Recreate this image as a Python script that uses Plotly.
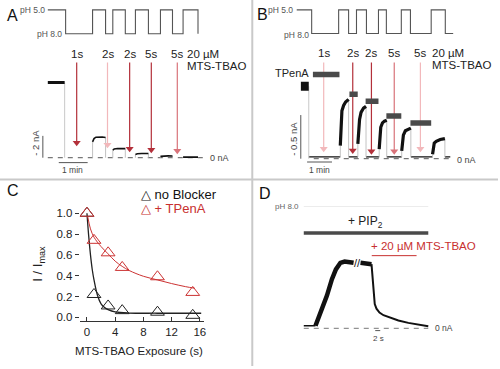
import plotly.graph_objects as go

W, H = 500, 369
FONT = "Arial, 'Liberation Sans', sans-serif"
RED = "#c8302f"
DARK_RED = "#b3303a"
MED_RED = "#d9737a"
PINK = "#f2b8bb"

# ---------------- Panel A (time s, current nA, pH) ----------------
A_PH_T = [0, 37, 93, 120, 135, 161, 182, 209, 234, 259, 281, 312]
A_PH = [5.0, 8.0, 5.0, 8.0, 5.0, 8.0, 5.0, 8.0, 5.0, 8.0, 5.0, 8.0]
A_INIT_T = [0, 35]
A_INIT_I = [6.9, 6.9]
A_RESP_T = [[93, 96, 100, 106, 113, 120],
            [135, 138, 145, 153, 161],
            [182, 186, 195, 209],
            [234, 240, 250, 259],
            [281, 290, 300, 312]]
A_RESP_I = [[1.45, 1.75, 1.88, 1.92, 1.90, 1.85],
            [0.70, 0.80, 0.84, 0.84, 0.83],
            [0.30, 0.36, 0.39, 0.38],
            [0.12, 0.16, 0.17, 0.15],
            [0.05, 0.07, 0.06, 0.05]]
A_ZERO_T = [0, 329]
A_MTS_T = [60, 124, 170, 215, 269]
A_MTS_LABELS = ["1s", "2s", "2s", "5s", "5s"]
A_ARROW_TIP = [1.09, 0.91, 0.55, 0.45, 0.36]
A_ARROW_COL = [DARK_RED, PINK, DARK_RED, DARK_RED, MED_RED]

# ---------------- Panel B ----------------
B_PH_T = [-17, 19, 84, 108, 127, 151, 180, 199, 235, 257, 307, 341, 360]
B_PH = [5.0, 8.0, 5.0, 8.0, 5.0, 8.0, 5.0, 8.0, 5.0, 8.0, 5.0, 8.0, 8.0]
B_INIT_T = [-7, 12]
B_INIT_I = [0.83, 0.83]
B_RESP_T = [[88, 88.8, 90.5, 91.9, 96, 100.8, 108],
            [130.3, 132, 134.4, 138, 144, 150],
            [181.7, 183.1, 185.5, 189.6, 194.4, 199.9],
            [236, 237.6, 240, 244.8, 252, 258],
            [310.3, 312, 314.4, 319.2, 328.8, 340]]
B_RESP_I = [[0.15, 0.23, 0.40, 0.55, 0.61, 0.65, 0.68],
            [0.17, 0.31, 0.45, 0.53, 0.58, 0.60],
            [0.11, 0.25, 0.36, 0.41, 0.43, 0.44],
            [0.09, 0.20, 0.27, 0.32, 0.34, 0.35],
            [0.05, 0.14, 0.18, 0.20, 0.22, 0.23]]
B_BASE_I = 0.02
B_BASE_END = 353
B_ZERO_T = [24, 360]
B_MTS_T = [48, 118, 163, 218, 281]
B_MTS_LABELS = ["1s", "2s", "2s", "5s", "5s"]
B_ARROW_TIP = [0.08, 0.06, 0.05, 0.05, 0.08]
B_ARROW_COL = [PINK, DARK_RED, DARK_RED, MED_RED, PINK]
B_TPENA_START = [22, 110, 149, 199, 257]
B_TPENA_END = [86, 130, 180, 235, 307]
B_TPENA_LEVEL = [0.966, 0.739, 0.659, 0.489, 0.409]

# ---------------- Panel C ----------------
C_EXPOSURE = [0, 1, 3, 5, 10, 15]
C_NO_BLOCKER = [1.0, 0.22, 0.11, 0.065, 0.05, 0.02]
C_TPENA = [1.0, 0.74, 0.62, 0.48, 0.39, 0.24]
C_FIT_NB_X = [0, 0.25, 0.5, 0.75, 1, 1.5, 2, 2.5, 3, 4, 6, 10, 16.2]
C_FIT_NB_Y = [1.0, 0.78, 0.60, 0.46, 0.36, 0.21, 0.13, 0.095, 0.075, 0.053, 0.042, 0.04, 0.04]
C_FIT_TP_X = [0.1, 0.5, 1, 2, 3, 4, 5, 6, 8, 10, 12, 14, 15.3]
C_FIT_TP_Y = [0.97, 0.85, 0.77, 0.68, 0.61, 0.54, 0.49, 0.45, 0.395, 0.36, 0.325, 0.295, 0.28]
C_XTICKS = [0, 4, 8, 12, 16]
C_YTICKS = [0.0, 0.2, 0.4, 0.6, 0.8, 1.0]

# ---------------- Panel D (time s, normalised current) ----------------
D_BASE_T = [0, 4.7]
D_BASE_I = [0.04, 0.04]
D_RISE_T = [4.7, 6.7, 9.3, 11.3, 12.9, 14.7, 16.4, 20]
D_RISE_I = [0.04, 0.24, 0.50, 0.75, 0.90, 1.0, 1.02, 1.0]
D_PLAT_T = [22.8, 25, 27.2]
D_PLAT_I = [1.0, 0.99, 0.98]
D_DECAY_T = [27.2, 27.6, 28.2, 28.5, 29.2, 30.4, 32, 34.8, 38, 42, 46, 50]
D_DECAY_I = [0.98, 0.75, 0.50, 0.37, 0.30, 0.24, 0.20, 0.16, 0.12, 0.083, 0.056, 0.03]
D_PIP2_T = [0, 50]
D_MTS_T = [27.3, 45.3]
D_ZERO_T = [0, 50]


def px(x):
    return x / W


def py(y):
    return 1 - y / H


def xr(p0, p1, pref, sec_per_px):
    return [(p0 - pref) * sec_per_px, (p1 - pref) * sec_per_px]


def yr(pb, pt, pzero, px_per_unit):
    return [(pzero - pb) / px_per_unit, (pzero - pt) / px_per_unit]


fig = go.Figure()


def line(x, y, xa, ya, color="#111", width=1.0, dash=None, shape="linear"):
    fig.add_trace(go.Scatter(x=x, y=y, xaxis=xa, yaxis=ya, mode="lines",
                             line=dict(color=color, width=width, dash=dash, shape=shape),
                             hoverinfo="skip", showlegend=False))


def segs(ts, vs):
    xs, ys = [], []
    for t, v in zip(ts, vs):
        xs += list(t) + [None]
        ys += list(v) + [None]
    return xs, ys


def edges(ts, vs, base=0.0):
    xs, ys = [], []
    for t, v in zip(ts, vs):
        xs += [t[0], t[0], None, t[-1], t[-1], None]
        ys += [base, v[0], None, v[-1], base, None]
    return xs, ys


def arrows(times, tips, cols, xa, ya, start, px_per_unit):
    head = 3.0 / px_per_unit
    for t, tip, c in zip(times, tips, cols):
        line([t, t], [start, tip + head], xa, ya, c, 1.2)
        fig.add_trace(go.Scatter(x=[t], y=[tip + head], xaxis=xa, yaxis=ya, mode="markers",
                                 marker=dict(symbol="triangle-down", size=7, color=c,
                                             line=dict(width=0)),
                                 hoverinfo="skip", showlegend=False))


# ----- Panel A -----
line(A_PH_T, A_PH, "x", "y", "#555", 1.1, shape="hv")
line(A_ZERO_T, [0, 0], "x", "y2", "#555", 1.0, dash="5px,5px")
line([A_INIT_T[-1], A_INIT_T[-1]], [A_INIT_I[-1], 0], "x", "y2", "#c8c8c8", 1.0)
ex, ey = edges(A_RESP_T, A_RESP_I)
line(ex, ey, "x", "y2", "#bbbbbb", 0.9)
line(A_INIT_T, A_INIT_I, "x", "y2", "#111", 3)
sx, sy = segs(A_RESP_T, A_RESP_I)
line(sx, sy, "x", "y2", "#111", 1.6)
arrows(A_MTS_T, A_ARROW_TIP, A_ARROW_COL, "x", "y2", (159 - 63) / 11, 11)
# scale bars A (2 nA, 1 min)
line([-10.3, -10.3], [0, 2], "x", "y2", "#555", 1.0)
line([22.8, 82.8], [-0.45, -0.45], "x", "y2", "#555", 1.0)

# ----- Panel B -----
line(B_PH_T, B_PH, "x2", "y3", "#555", 1.1, shape="hv")
line(B_ZERO_T, [0, 0], "x2", "y4", "#555", 1.0, dash="5px,5px")
bx, by = [B_INIT_T[-1]], [B_BASE_I]
for t in B_RESP_T:
    bx += [t[0], None, t[-1]]
    by += [B_BASE_I, None, B_BASE_I]
bx.append(B_BASE_END)
by.append(B_BASE_I)
line(bx, by, "x2", "y4", "#111", 1.2)
line([B_INIT_T[-1], B_INIT_T[-1]], [B_INIT_I[-1], 0], "x2", "y4", "#c8c8c8", 1.0)
ex, ey = edges(B_RESP_T, B_RESP_I, B_BASE_I)
line(ex, ey, "x2", "y4", "#bbbbbb", 0.9)
line(B_INIT_T, B_INIT_I, "x2", "y4", "#111", 9)
sx, sy = segs(B_RESP_T, B_RESP_I)
line(sx, sy, "x2", "y4", "#111", 3.2)
arrows(B_MTS_T, B_ARROW_TIP, B_ARROW_COL, "x2", "y4", (160 - 63) / 88, 88)
tx, ty = segs([[s, e] for s, e in zip(B_TPENA_START, B_TPENA_END)],
              [[v, v] for v in B_TPENA_LEVEL])
line(tx, ty, "x2", "y4", "#4a4a4a", 5.5)
# scale bars B (0.5 nA, 1 min)
line([-7.2, -7.2], [0, 0.5], "x2", "y4", "#555", 1.0)
line([8, 68], [-0.038, -0.038], "x2", "y4", "#555", 1.0)

# ----- Panel C -----
line(C_FIT_NB_X, C_FIT_NB_Y, "x3", "y5", "#222", 1.3, shape="spline")
line(C_FIT_TP_X, C_FIT_TP_Y, "x3", "y5", "#cc3333", 1.0, shape="spline")
fig.add_trace(go.Scatter(x=C_EXPOSURE, y=C_NO_BLOCKER, xaxis="x3", yaxis="y5", mode="markers",
                         name="no Blocker",
                         marker=dict(symbol="triangle-up-open", size=12, color="#222",
                                     line=dict(width=1)),
                         hoverinfo="skip", showlegend=False))
fig.add_trace(go.Scatter(x=C_EXPOSURE, y=C_TPENA, xaxis="x3", yaxis="y5", mode="markers",
                         name="+ TPenA",
                         marker=dict(symbol="triangle-up-open", size=12, color="#cc3333",
                                     line=dict(width=1)),
                         hoverinfo="skip", showlegend=False))

# ----- Panel D -----
line(D_ZERO_T, [0, 0], "x4", "y6", "#777", 1.0, dash="5px,5px")
line(D_ZERO_T, [1.86, 1.86], "x4", "y6", "#ececec", 1.0)
line(D_PIP2_T, [1.455, 1.455], "x4", "y6", "#4a4a4a", 3.5)
line(D_MTS_T, [1.11, 1.11], "x4", "y6", RED, 1.0)
line(D_BASE_T, D_BASE_I, "x4", "y6", "#111", 1.6)
line(D_RISE_T, D_RISE_I, "x4", "y6", "#111", 4.5)
line(D_PLAT_T, D_PLAT_I, "x4", "y6", "#111", 4.5)
line(D_DECAY_T, D_DECAY_I, "x4", "y6", "#111", 2.0)
line([28.7, 30.7], [-0.035, -0.035], "x4", "y6", "#555", 1.0)

# ---------------- annotations ----------------
ann = []


def txt(x, y, s, size=11.5, color="#222", xanchor="center", yanchor="middle",
        xref="paper", yref="paper", angle=0):
    if xref == "paper":
        x = px(x)
    if yref == "paper":
        y = py(y)
    ann.append(dict(x=x, y=y, xref=xref, yref=yref, text=s, showarrow=False,
                    xanchor=xanchor, yanchor=yanchor, textangle=angle,
                    font=dict(family=FONT, size=size, color=color)))


# Panel letters
txt(13, 15.5, "A", 16, "#111")
txt(264, 15, "B", 16, "#111")
txt(13, 192, "C", 16, "#111")
txt(266, 195, "D", 16, "#111")

# A texts
txt(47, 10, "pH 5.0", 8.5, "#555", xanchor="right")
txt(64, 34, "pH 8.0", 8.5, "#555", xanchor="right")
for t, s in zip(A_MTS_T, A_MTS_LABELS):
    txt(t, 54, s, 11.5, "#222", xref="x")
txt(186, 54, "20 µM", 11.5, "#222", xanchor="left")
txt(186, 67, "MTS-TBAO", 11.5, "#222", xanchor="left")
txt(36, 144, "- 2 nA", 9.5, "#444", angle=-90)
txt(73, 171, "1 min", 8.5, "#444")
txt(209, 159, "0 nA", 9, "#444", xanchor="left")

# B texts
txt(296, 10, "pH 5.0", 8.5, "#555", xanchor="right")
txt(312, 35, "pH 8.0", 8.5, "#555", xanchor="right")
for t, s in zip(B_MTS_T, B_MTS_LABELS):
    txt(t, 53, s, 11.5, "#222", xref="x2")
txt(432, 53, "20 µM", 11.5, "#222", xanchor="left")
txt(432, 66, "MTS-TBAO", 11.5, "#222", xanchor="left")
txt(312, 74, "TPenA", 11, "#222", xanchor="right")
txt(295, 140, "- 0.5 nA", 9.5, "#444", angle=-90)
txt(321, 171, "1 min", 8.5, "#444")
txt(457, 161, "0 nA", 9, "#444", xanchor="left")

# C texts
txt(140, 196.5, "△ no Blocker", 13, "#111", xanchor="left")
txt(140, 210, "△ + TPenA", 13, RED, xanchor="left")
txt(39, 266, "I / I<sub>max</sub>", 13, "#222", angle=-90)
txt(140, 354, "MTS-TBAO Exposure (s)", 11.5, "#222")

# D texts
txt(302, 208, "pH 8.0", 8, "#666", xanchor="right")
txt(367, 224, "+ PIP<sub>2</sub>", 12, "#222")
txt(370, 248, "+ 20 µM MTS-TBAO", 11.5, RED, xanchor="left")
txt(358.5, 265, "//", 11, "#111")
txt(435, 331, "0 nA", 8.5, "#444", xanchor="left")
txt(380, 341, "2 s", 8, "#444")

hidden = dict(visible=False, showgrid=False, zeroline=False, fixedrange=True)

fig.update_layout(
    width=W, height=H,
    margin=dict(l=0, r=0, t=0, b=0),
    paper_bgcolor="white", plot_bgcolor="rgba(0,0,0,0)",
    font=dict(family=FONT, size=11, color="#222"),
    showlegend=False,
    # Panel A
    xaxis=dict(domain=[px(5), px(248)], range=xr(5, 248, 48, 60 / 29), anchor="y", **hidden),
    yaxis=dict(domain=[py(44), py(2)], range=[9.25, 4.0], anchor="x", **hidden),
    yaxis2=dict(domain=[py(178), py(40)], range=yr(178, 40, 159, 11), anchor="x", **hidden),
    # Panel B
    xaxis2=dict(domain=[px(258), px(498)], range=xr(258, 498, 305, 2.4), anchor="y3", **hidden),
    yaxis3=dict(domain=[py(45), py(2)], range=[9.4, 4.0], anchor="x2", **hidden),
    yaxis4=dict(domain=[py(178), py(40)], range=yr(178, 40, 160, 88), anchor="x2", **hidden),
    # Panel C
    xaxis3=dict(domain=[px(80), px(205)], range=xr(80, 205, 87.3, 1 / 7.08), anchor="y5",
                showline=True, linecolor="#333", linewidth=1, ticks="inside", ticklen=4,
                tickcolor="#333", tickvals=C_XTICKS, showgrid=False, zeroline=False,
                tickfont=dict(family=FONT, size=11.5, color="#222")),
    yaxis5=dict(domain=[py(323.5), py(202)], range=yr(323.5, 202, 320, 105), anchor="x3",
                showline=False, ticks="outside", ticklen=4, tickcolor="#333",
                tickvals=C_YTICKS, tickformat=".1f", showgrid=False, zeroline=False,
                tickfont=dict(family=FONT, size=11.5, color="#222")),
    # Panel D
    xaxis4=dict(domain=[px(258), px(498)], range=xr(258, 498, 305, 1 / 2.5), anchor="y6", **hidden),
    yaxis6=dict(domain=[py(365), py(200)], range=yr(365, 200, 331, 66), anchor="x4", **hidden),
    annotations=ann,
    shapes=[
        dict(type="line", xref="paper", yref="paper", x0=px(253.3), x1=px(253.3), y0=0, y1=1,
             line=dict(color="#c9c9c9", width=2)),
        dict(type="line", xref="paper", yref="paper", x0=0, x1=1, y0=py(181), y1=py(181),
             line=dict(color="#c9c9c9", width=2)),
    ],
)

fig.write_html("out.html", config={"displayModeBar": False},
               post_script="document.body.style.margin='0';document.body.style.padding='0';")
